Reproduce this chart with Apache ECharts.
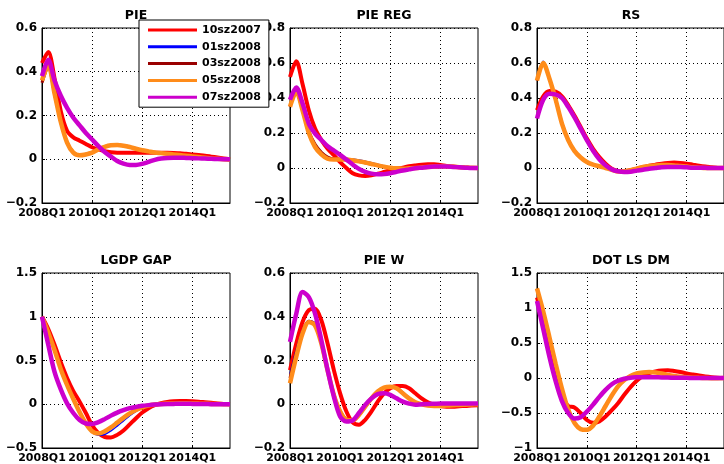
<!DOCTYPE html>
<html>
<head>
<meta charset="utf-8">
<script src="https://cdn.jsdelivr.net/npm/echarts@6/dist/echarts.min.js"></script>
<style>
  html, body { margin: 0; padding: 0; background: #fff; }
  #chart { width: 724px; height: 464px; }
</style>
</head>
<body>
<div id="chart"></div>
<script>
// Quarterly horizon of the impulse responses
const quarters = [
  '2008Q1','2008Q2','2008Q3','2008Q4','2009Q1','2009Q2','2009Q3','2009Q4',
  '2010Q1','2010Q2','2010Q3','2010Q4','2011Q1','2011Q2','2011Q3','2011Q4',
  '2012Q1','2012Q2','2012Q3','2012Q4','2013Q1','2013Q2','2013Q3','2013Q4',
  '2014Q1','2014Q2','2014Q3','2014Q4','2015Q1','2015Q2','2015Q3'
];

// Vintages shown in every panel
const vintages = ['10sz2007', '01sz2008', '03sz2008', '05sz2008', '07sz2008'];
const vintageColors = ['#ff0000', '#0000ff', '#990000', '#ff8c1a', '#cc00cc'];
const vintageWidths = [4, 1.5, 3, 4.5, 4.5];

// Panel titles
const panelTitles = ['PIE', 'PIE REG', 'RS', 'LGDP GAP', 'PIE W', 'DOT LS DM'];

// Y axis ranges per panel: [min, max, step]
const yRanges = [
  [-0.2, 0.6, 0.2], [-0.2, 0.8, 0.2], [-0.2, 0.8, 0.2],
  [-0.5, 1.5, 0.5], [-0.2, 0.6, 0.2], [-1, 1.5, 0.5]
];

// ---- PIE ----
const pie10sz2007 = [0.44,0.49,0.37,0.22,0.13,0.10,0.085,0.07,0.055,0.045,0.037,0.032,0.03,0.03,0.03,0.03,0.03,0.03,0.03,0.03,0.03,0.029,0.027,0.025,0.022,0.019,0.016,0.012,0.008,0.004,0.0];
const pie01sz2008 = [0.37,0.44,0.31,0.18,0.08,0.033,0.02,0.024,0.033,0.048,0.06,0.067,0.068,0.066,0.06,0.052,0.044,0.038,0.033,0.029,0.026,0.023,0.02,0.017,0.014,0.011,0.008,0.005,0.002,0.0,-0.002];
const pie03sz2008 = [0.35,0.42,0.30,0.17,0.078,0.032,0.019,0.023,0.031,0.046,0.058,0.064,0.065,0.062,0.056,0.048,0.041,0.036,0.031,0.028,0.025,0.022,0.019,0.016,0.013,0.01,0.007,0.004,0.002,0.0,-0.002];
const pie05sz2008 = [0.36,0.43,0.30,0.17,0.076,0.03,0.018,0.022,0.03,0.045,0.057,0.064,0.065,0.062,0.056,0.048,0.041,0.036,0.031,0.028,0.025,0.022,0.019,0.016,0.013,0.01,0.007,0.004,0.002,0.0,-0.002];
const pie07sz2008 = [0.38,0.455,0.36,0.29,0.235,0.19,0.155,0.12,0.09,0.06,0.033,0.012,-0.008,-0.02,-0.026,-0.026,-0.021,-0.012,-0.003,0.003,0.006,0.007,0.007,0.006,0.005,0.004,0.003,0.002,0.001,0.0,0.0];

// ---- PIE REG ----
const pieReg10sz2007 = [0.52,0.61,0.48,0.33,0.225,0.16,0.11,0.073,0.034,0.0,-0.03,-0.042,-0.046,-0.042,-0.033,-0.023,-0.013,-0.004,0.002,0.01,0.015,0.019,0.021,0.021,0.017,0.012,0.008,0.004,0.002,0.0,0.0];
const pieReg01sz2008 = [0.36,0.44,0.335,0.205,0.123,0.08,0.056,0.052,0.053,0.054,0.051,0.046,0.039,0.03,0.021,0.012,0.005,0.0,-0.003,-0.002,0.0,0.003,0.006,0.007,0.008,0.008,0.007,0.005,0.003,0.001,0.0];
const pieReg03sz2008 = [0.35,0.43,0.33,0.21,0.135,0.09,0.063,0.052,0.049,0.047,0.043,0.037,0.03,0.022,0.014,0.007,0.002,-0.002,-0.004,-0.002,0.0,0.003,0.006,0.007,0.008,0.008,0.007,0.005,0.003,0.001,0.0];
const pieReg05sz2008 = [0.35,0.436,0.33,0.2,0.12,0.078,0.053,0.048,0.048,0.048,0.044,0.038,0.031,0.023,0.015,0.008,0.002,-0.002,-0.004,-0.002,0.0,0.003,0.006,0.007,0.008,0.008,0.007,0.005,0.003,0.001,0.0];
const pieReg07sz2008 = [0.39,0.46,0.37,0.254,0.197,0.16,0.124,0.1,0.075,0.048,0.02,-0.005,-0.022,-0.032,-0.036,-0.035,-0.03,-0.022,-0.014,-0.008,-0.002,0.002,0.006,0.008,0.008,0.008,0.006,0.004,0.002,0.0,0.0];

// ---- RS ----
const rs10sz2007 = [0.33,0.41,0.44,0.436,0.41,0.36,0.30,0.235,0.168,0.11,0.063,0.025,-0.004,-0.017,-0.019,-0.013,-0.004,0.006,0.013,0.019,0.025,0.029,0.031,0.029,0.025,0.019,0.013,0.008,0.004,0.0,0.0];
const rs01sz2008 = [0.51,0.61,0.52,0.395,0.258,0.163,0.1,0.062,0.035,0.02,0.011,0.001,-0.009,-0.019,-0.018,-0.013,-0.005,0.005,0.01,0.014,0.016,0.016,0.014,0.011,0.008,0.004,0.002,0.0,0.0,0.0,0.0];
const rs03sz2008 = [0.50,0.60,0.51,0.39,0.256,0.162,0.099,0.061,0.035,0.019,0.01,0.0,-0.01,-0.02,-0.018,-0.013,-0.004,0.006,0.011,0.015,0.017,0.017,0.015,0.011,0.008,0.004,0.002,0.0,0.0,0.0,0.0];
const rs05sz2008 = [0.50,0.60,0.51,0.39,0.254,0.16,0.098,0.06,0.034,0.019,0.01,0.0,-0.01,-0.02,-0.018,-0.013,-0.004,0.006,0.011,0.015,0.017,0.017,0.015,0.011,0.008,0.004,0.002,0.0,0.0,0.0,0.0];
const rs07sz2008 = [0.283,0.39,0.425,0.42,0.40,0.35,0.29,0.225,0.159,0.098,0.05,0.015,-0.008,-0.019,-0.023,-0.021,-0.015,-0.01,-0.004,0.0,0.004,0.006,0.006,0.006,0.004,0.002,0.002,0.001,0.0,0.0,0.0];

// ---- LGDP GAP ----
const gap10sz2007 = [1.0,0.86,0.68,0.48,0.3,0.15,0.03,-0.1,-0.24,-0.33,-0.375,-0.38,-0.35,-0.3,-0.23,-0.16,-0.095,-0.045,-0.01,0.012,0.027,0.035,0.038,0.038,0.035,0.03,0.023,0.016,0.009,0.004,0.0];
const gap01sz2008 = [1.0,0.83,0.63,0.41,0.22,0.06,-0.09,-0.22,-0.32,-0.355,-0.345,-0.305,-0.25,-0.19,-0.13,-0.08,-0.04,-0.015,0.0,0.008,0.012,0.013,0.013,0.012,0.01,0.008,0.006,0.004,0.002,0.001,0.0];
const gap03sz2008 = [1.0,0.82,0.62,0.41,0.22,0.06,-0.09,-0.22,-0.31,-0.335,-0.31,-0.265,-0.21,-0.155,-0.105,-0.065,-0.035,-0.015,-0.003,0.004,0.008,0.01,0.011,0.011,0.01,0.008,0.006,0.004,0.002,0.001,0.0];
const gap05sz2008 = [1.0,0.82,0.62,0.4,0.22,0.06,-0.09,-0.22,-0.31,-0.335,-0.31,-0.265,-0.21,-0.155,-0.105,-0.065,-0.035,-0.015,-0.003,0.004,0.008,0.01,0.011,0.011,0.01,0.008,0.006,0.004,0.002,0.001,0.0];
const gap07sz2008 = [1.0,0.68,0.37,0.17,0.01,-0.1,-0.18,-0.22,-0.225,-0.205,-0.17,-0.13,-0.095,-0.068,-0.045,-0.03,-0.018,-0.01,-0.004,0.0,0.003,0.004,0.005,0.005,0.004,0.003,0.002,0.001,0.0,0.0,0.0];

// ---- PIE W ----
const pieW10sz2007 = [0.156,0.278,0.376,0.43,0.437,0.384,0.278,0.156,0.05,-0.033,-0.083,-0.094,-0.071,-0.033,0.012,0.05,0.073,0.083,0.083,0.073,0.05,0.027,0.009,-0.002,-0.008,-0.011,-0.011,-0.009,-0.008,-0.006,-0.005];
const pieW01sz2008 = [0.14,0.25,0.34,0.383,0.37,0.29,0.165,0.05,-0.03,-0.07,-0.075,-0.052,-0.014,0.024,0.056,0.076,0.082,0.076,0.055,0.03,0.011,0.001,-0.005,-0.008,-0.008,-0.006,-0.005,-0.003,-0.002,-0.001,0.0];
const pieW03sz2008 = [0.12,0.235,0.33,0.38,0.365,0.285,0.16,0.046,-0.031,-0.07,-0.074,-0.05,-0.012,0.026,0.057,0.076,0.081,0.074,0.052,0.028,0.01,0.0,-0.006,-0.008,-0.008,-0.006,-0.005,-0.003,-0.002,-0.001,0.0];
const pieW05sz2008 = [0.096,0.217,0.323,0.376,0.36,0.278,0.156,0.042,-0.033,-0.071,-0.074,-0.049,-0.011,0.027,0.058,0.076,0.08,0.073,0.05,0.027,0.009,0.0,-0.006,-0.008,-0.008,-0.006,-0.005,-0.003,-0.002,-0.001,0.0];
const pieW07sz2008 = [0.285,0.414,0.513,0.49,0.414,0.293,0.156,0.035,-0.056,-0.079,-0.074,-0.04,-0.003,0.027,0.046,0.05,0.043,0.027,0.012,0.003,-0.002,0.0,0.0015,0.002,0.003,0.003,0.004,0.004,0.004,0.004,0.004];

// ---- DOT LS DM ----
const dot10sz2007 = [1.15,0.8,0.42,0.05,-0.25,-0.4,-0.42,-0.5,-0.6,-0.64,-0.62,-0.55,-0.46,-0.36,-0.24,-0.13,-0.04,0.03,0.07,0.095,0.108,0.11,0.1,0.085,0.066,0.05,0.035,0.022,0.012,0.005,0.0];
const dot01sz2008 = [1.25,0.92,0.55,0.18,-0.17,-0.46,-0.65,-0.73,-0.73,-0.67,-0.55,-0.41,-0.26,-0.13,-0.04,0.02,0.055,0.072,0.078,0.074,0.062,0.045,0.03,0.018,0.01,0.005,0.002,0.0,-0.002,-0.002,-0.001];
const dot03sz2008 = [1.27,0.94,0.57,0.19,-0.16,-0.45,-0.64,-0.73,-0.74,-0.68,-0.55,-0.4,-0.25,-0.12,-0.03,0.03,0.065,0.08,0.085,0.08,0.065,0.045,0.03,0.018,0.01,0.005,0.002,0.0,-0.002,-0.002,-0.001];
const dot05sz2008 = [1.28,0.95,0.58,0.2,-0.15,-0.45,-0.64,-0.73,-0.74,-0.68,-0.55,-0.4,-0.25,-0.12,-0.03,0.03,0.065,0.08,0.085,0.08,0.065,0.045,0.03,0.018,0.01,0.005,0.002,0.0,-0.002,-0.002,-0.001];
const dot07sz2008 = [1.1,0.7,0.3,-0.05,-0.33,-0.5,-0.58,-0.56,-0.48,-0.38,-0.27,-0.17,-0.09,-0.04,-0.01,0.005,0.01,0.012,0.012,0.01,0.008,0.006,0.004,0.003,0.002,0.001,0.0,0.0,0.0,0.0,0.0];

const panelData = [
  [pie10sz2007, pie01sz2008, pie03sz2008, pie05sz2008, pie07sz2008],
  [pieReg10sz2007, pieReg01sz2008, pieReg03sz2008, pieReg05sz2008, pieReg07sz2008],
  [rs10sz2007, rs01sz2008, rs03sz2008, rs05sz2008, rs07sz2008],
  [gap10sz2007, gap01sz2008, gap03sz2008, gap05sz2008, gap07sz2008],
  [pieW10sz2007, pieW01sz2008, pieW03sz2008, pieW05sz2008, pieW07sz2008],
  [dot10sz2007, dot01sz2008, dot03sz2008, dot05sz2008, dot07sz2008]
];

// Layout of the 2x3 grid of panels
const colLeft = [42, 290, 537];
const rowTop = [28, 273];
const panelW = 188, panelH = 175;

const FONT = 'DejaVu Sans';
const axisText = { fontFamily: FONT, fontWeight: 'bold', fontSize: 12, color: '#000' };

const grids = [], xAxes = [], yAxes = [], titles = [], series = [];

panelTitles.forEach((name, i) => {
  const left = colLeft[i % 3];
  const top = rowTop[Math.floor(i / 3)];
  grids.push({ left, top, width: panelW, height: panelH, show: true,
    borderColor: '#000', borderWidth: 1, backgroundColor: '#fff', containLabel: false });

  titles.push({ text: name, left: left + panelW / 2, top: top - 19, textAlign: 'center',
    padding: 0, textStyle: { fontFamily: FONT, fontWeight: 'bold', fontSize: 12.5, color: '#000' } });

  xAxes.push({
    type: 'category', gridIndex: i, data: quarters, boundaryGap: false,
    axisLine: { show: true, onZero: false, lineStyle: { color: '#000', width: 1 } },
    axisTick: { show: true, inside: true, length: 3, interval: 7, lineStyle: { color: '#000' } },
    axisLabel: Object.assign({}, axisText, { fontSize: 11, interval: 7, margin: 5,
      hideOverlap: false }),
    splitLine: { show: true, interval: 7, lineStyle: { color: '#000', width: 1, type: [1, 3] } }
  });

  const [ymin, ymax, step] = yRanges[i];
  yAxes.push({
    type: 'value', gridIndex: i, min: ymin, max: ymax, interval: step,
    axisLine: { show: true, onZero: false, lineStyle: { color: '#000', width: 1 } },
    axisTick: { show: true, inside: true, length: 3, lineStyle: { color: '#000' } },
    axisLabel: Object.assign({ margin: 5,
      formatter: v => String(Math.round(v * 100) / 100).replace('-', '\u2212') }, axisText),
    splitLine: { show: true, lineStyle: { color: '#000', width: 1, type: [1, 3] } }
  });

  vintages.forEach((v, k) => {
    series.push({
      name: v, type: 'line', xAxisIndex: i, yAxisIndex: i,
      data: panelData[i][k], symbol: 'none', showSymbol: false, smooth: 0.3,
      lineStyle: { color: vintageColors[k], width: vintageWidths[k] },
      itemStyle: { color: vintageColors[k] },
      emphasis: { disabled: true }, z: 2 + k
    });
  });
});

const chart = echarts.init(document.getElementById('chart'), null, { renderer: 'canvas' });
chart.setOption({
  animation: false,
  backgroundColor: '#fff',
  title: titles,
  grid: grids,
  xAxis: xAxes,
  yAxis: yAxes,
  legend: {
    orient: 'vertical', left: 139, top: 20, z: 20,
    backgroundColor: '#fff', borderColor: '#000', borderWidth: 1,
    padding: [3, 8, 3, 9], itemWidth: 49, itemHeight: 3, itemGap: 2.8,
    icon: 'rect',
    textStyle: { fontFamily: FONT, fontWeight: 'bold', fontSize: 11, lineHeight: 14, color: '#000' },
    data: vintages.map((v, k) => ({ name: v, itemStyle: { color: vintageColors[k] } })),
    selectedMode: false
  },
  series
});
</script>
</body>
</html>
